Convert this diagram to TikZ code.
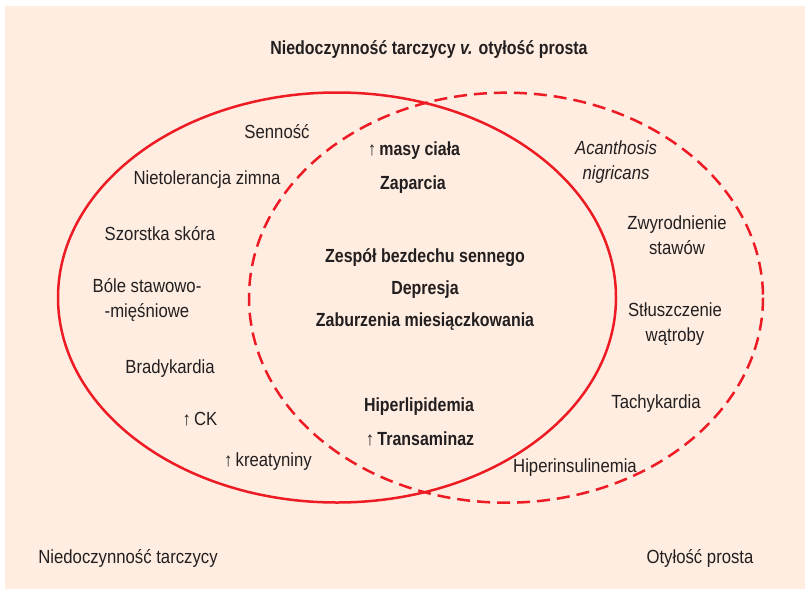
\documentclass[tikz,border=0pt]{standalone}
\usepackage{fontspec}
\setmainfont{Liberation Sans}[UprightFeatures={FakeStretch=0.88},ItalicFeatures={FakeStretch=0.88},BoldFeatures={FakeStretch=0.84},BoldItalicFeatures={FakeStretch=0.84}]
\definecolor{bgpeach}{RGB}{254,237,224}
\definecolor{vred}{RGB}{237,28,36}
\definecolor{txt}{RGB}{35,31,32}
\begin{document}
\begin{tikzpicture}[x=1pt,y=-1pt,
  lbl/.style={inner sep=0pt,align=center,text=txt,yshift=-1.5pt,font=\fontsize{19}{25}\selectfont},
  blbl/.style={lbl,font=\fontsize{19}{25}\selectfont\bfseries},
  ring/.style={draw=vred,line width=2.5pt}]
\useasboundingbox (0,0) rectangle (805,589);
\fill[bgpeach] (5,6) rectangle (805,589);
% ellipses
\draw[ring] (337,297.5) ellipse [x radius=279, y radius=205];
\draw[ring,dash pattern=on 13pt off 7pt] (506,297.7) ellipse [x radius=257, y radius=205];
% title
\node[blbl] (title) at (429,48) {Niedoczynność tarczycy \textit{v.} otyłość prosta};
% left only
\node[lbl] (sen) at (277,130) {Senność};
\node[lbl] (niet) at (207,178) {Nietolerancja zimna};
\node[lbl] (szor) at (160,232) {Szorstka skóra};
\node[lbl] (bole) at (147,298) {Bóle stawowo-\\-mięśniowe};
\node[lbl] (brad) at (170,367) {Bradykardia};
\node[lbl] (ck) at (200,418) {↑\,CK};
\node[lbl] (kre) at (268,460) {↑\,kreatyniny};
% common
\node[blbl] (masy) at (414,149) {{\mdseries↑}\,masy ciała};
\node[blbl] (zap) at (413,183) {Zaparcia};
\node[blbl] (zesp) at (425,256) {Zespół bezdechu sennego};
\node[blbl] (dep) at (425,288) {Depresja};
\node[blbl] (zab) at (425,320) {Zaburzenia miesiączkowania};
\node[blbl] (hip) at (419,405) {Hiperlipidemia};
\node[blbl] (tra) at (420,437) {{\mdseries↑}\,Transaminaz};
% right only
\node[lbl] (acan) at (616,161) {\textit{Acanthosis}\\\textit{nigricans}};
\node[lbl] (zwyr) at (677,234) {Zwyrodnienie\\stawów};
\node[lbl] (stl) at (675,323) {Stłuszczenie\\wątroby};
\node[lbl] (tach) at (656,402) {Tachykardia};
\node[lbl] (hins) at (575,466) {Hiperinsulinemia};
% set labels
\node[lbl] (lset) at (128,557) {Niedoczynność tarczycy};
\node[lbl] (rset) at (700,557) {Otyłość prosta};
\end{tikzpicture}
\end{document}
